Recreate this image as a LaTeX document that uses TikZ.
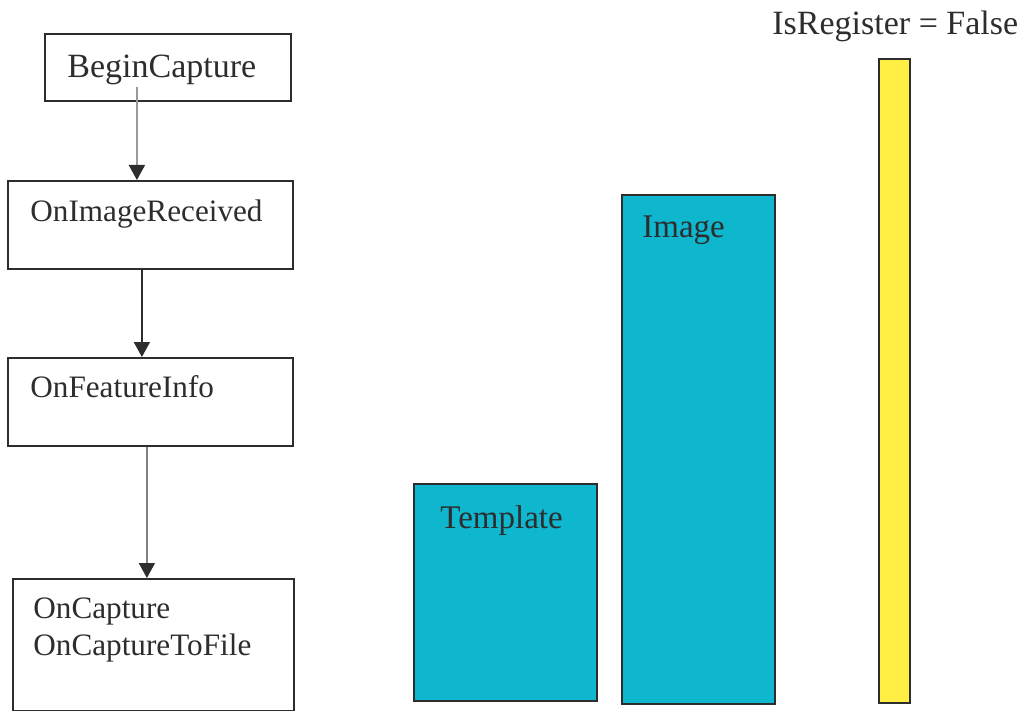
\documentclass[tikz,border=0pt]{standalone}
\usepackage{fontspec}
\setmainfont{Liberation Serif}
\usetikzlibrary{arrows.meta,calc,positioning}
\definecolor{tealbar}{RGB}{14,182,206}
\definecolor{yellowbar}{RGB}{255,238,68}
\definecolor{inkgray}{RGB}{45,45,45}
\begin{document}
\begin{tikzpicture}[x=0.5pt,y=-0.5pt,
    box/.style={draw=inkgray, line width=0.9pt, anchor=north west, inner sep=0pt},
    boxtext/.style={anchor=base west, inner sep=0pt, text=inkgray},
    flow/.style={line width=0.9pt, -{Triangle[length=7.5pt,width=8pt,color=inkgray]}}]
        % Frame
        \useasboundingbox (0,0) rectangle (1022,711);
        % Call chain boxes
        \node[box, minimum width=123pt, minimum height=33.5pt] (begin) at (44,33) {};
        \node[box, minimum width=142.5pt, minimum height=44pt] (recv) at (7,180) {};
        \node[box, minimum width=142.5pt, minimum height=44pt] (feat) at (7,357) {};
        \node[box, minimum width=140.5pt, minimum height=66pt] (capt) at (12,578) {};
        % Box texts
        \node[boxtext, font=\fontsize{17}{20}\selectfont] at (67,78) {BeginCapture};
        \node[boxtext, font=\fontsize{15.6}{18.5}\selectfont] at (30,222) {OnImageReceived};
        \node[boxtext, font=\fontsize{15.6}{18.5}\selectfont] at (30,397) {OnFeatureInfo};
        \node[boxtext, font=\fontsize{15.6}{18.5}\selectfont] at (33,618) {OnCapture};
        \node[boxtext, font=\fontsize{15.6}{18.5}\selectfont] at (33,655) {OnCaptureToFile};
        % Arrows
        \coordinate (a1) at ([xshift=-15.5pt]begin.south);
        \coordinate (a2) at ([xshift=-4.25pt]recv.south);
        \coordinate (a3) at ([xshift=-1.75pt]feat.south);
        \draw[flow, draw=gray!80] ([yshift=7.5pt]a1) -- (a1 |- recv.north);
        \draw[flow, draw=inkgray] (a2) -- (a2 |- feat.north);
        \draw[flow, draw=gray] (a3) -- (a3 |- capt.north);
        % Bars
        \node[box, fill=tealbar, minimum width=91.5pt, minimum height=108.5pt] (tmpl) at (413,483) {};
        \node[box, fill=tealbar, minimum width=76.5pt, minimum height=254.5pt] (img) at (621,194) {};
        \node[box, fill=yellowbar, minimum width=15.5pt, minimum height=322pt] (flag) at (878,58) {};
        % Bar labels
        \node[boxtext, font=\fontsize{16.5}{20}\selectfont] at (440,528) {Template};
        \node[boxtext, font=\fontsize{16.5}{20}\selectfont] at (642,238) {Image};
        \node[boxtext, font=\fontsize{17}{20}\selectfont] at (772,35) {IsRegister = False};
      \end{tikzpicture}
\end{document}
